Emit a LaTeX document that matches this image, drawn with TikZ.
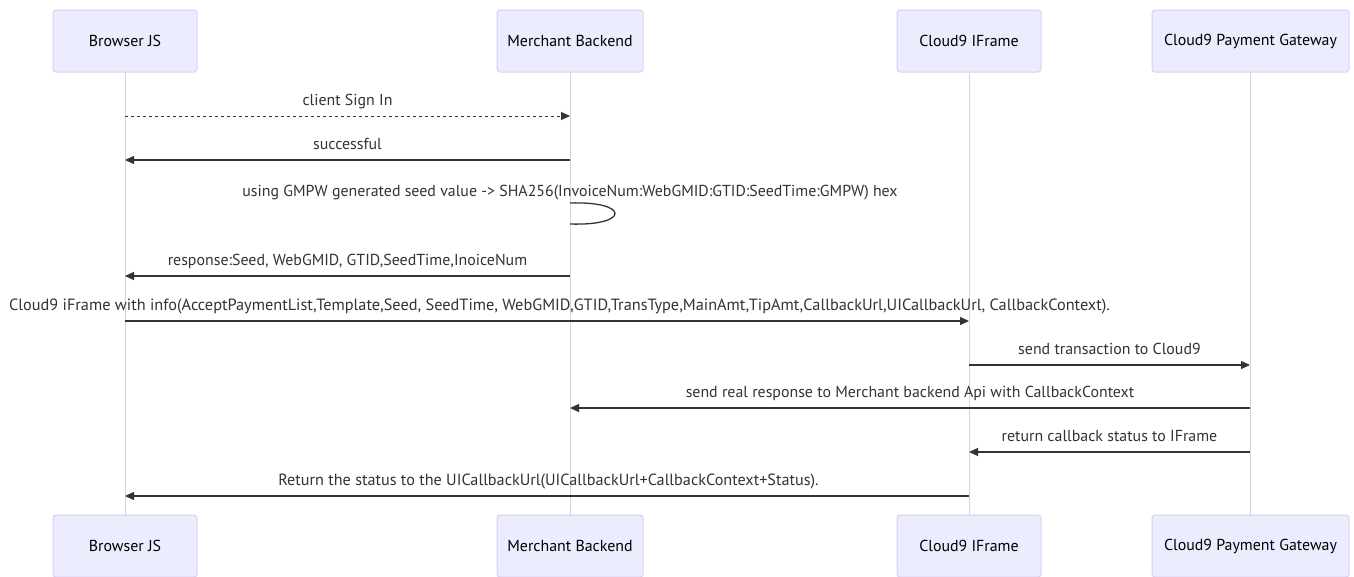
\documentclass[tikz,border=0pt]{standalone}
\usepackage{fontspec}
\setmainfont{PT Sans}
\usetikzlibrary{arrows.meta}
\definecolor{actfill}{HTML}{ECECFF}
\definecolor{actborder}{HTML}{DACEF3}
\definecolor{sig}{HTML}{333333}
\begin{document}
\begin{tikzpicture}[x=1pt,y=-1pt,
  actor/.style={draw=actborder,fill=actfill,line width=1pt,rounded corners=3pt,
    minimum height=62pt,inner sep=0pt,font=\fontsize{15.9}{19}\selectfont,text=black},
  life/.style={draw=actborder,line width=1pt},
  msg/.style={draw=sig,line width=1.3pt,-{Triangle[length=9pt,width=8pt]}},
  dmsg/.style={msg,line width=1pt,dash pattern=on 3pt off 3pt},
  lbl/.style={inner sep=0pt,font=\fontsize{15.9}{19}\selectfont,text=sig,anchor=base}]
\useasboundingbox (0,0) rectangle (1354,576);
\fill[white] (0,0) rectangle (1354,576);
% actors top
\node[actor,minimum width=144pt] (bjT) at (125,41) {Browser JS};
\node[actor,minimum width=146pt] (mbT) at (570,41) {Merchant Backend};
\node[actor,minimum width=144pt] (ifT) at (969,41) {Cloud9 IFrame};
\node[actor,minimum width=197pt] (pgT) at (1250.5,41) {Cloud9 Payment Gateway};
% actors bottom
\node[actor,minimum width=144pt] (bjB) at (125,546) {Browser JS};
\node[actor,minimum width=146pt] (mbB) at (570,546) {Merchant Backend};
\node[actor,minimum width=144pt] (ifB) at (969,546) {Cloud9 IFrame};
\node[actor,minimum width=197pt] (pgB) at (1250.5,546) {Cloud9 Payment Gateway};
% lifelines
\draw[life] (bjT.south) -- (bjB.north);
\draw[life] (mbT.south) -- (mbB.north);
\draw[life] (ifT.south) -- (ifB.north);
\draw[life] (pgT.south) -- (pgB.north);
% message anchor points
\coordinate (a1) at (125,116); \coordinate (b1) at (570,116);
\coordinate (a2) at (570,160); \coordinate (b2) at (125,160);
\coordinate (a3) at (570,203); \coordinate (b3) at (570,224);
\coordinate (a4) at (570,276); \coordinate (b4) at (125,276);
\coordinate (a5) at (125,321); \coordinate (b5) at (969,321);
\coordinate (a6) at (969,365); \coordinate (b6) at (1250,365);
\coordinate (a7) at (1250,408); \coordinate (b7) at (570,408);
\coordinate (a8) at (1250,452); \coordinate (b8) at (969,452);
\coordinate (a9) at (969,496); \coordinate (b9) at (125,496);
% messages
\draw[dmsg] (a1) -- (b1);
\node[lbl] (t1) at (347.5,105) {client Sign In};
\draw[msg] (a2) -- (b2);
\node[lbl] (t2) at (347.5,149) {successful};
\draw[draw=sig,line width=1.3pt] (a3) .. controls (630,201) and (630,226) .. (b3);
\node[lbl] (t3) at (570,196) {using GMPW generated seed value -> SHA256(InvoiceNum:WebGMID:GTID:SeedTime:GMPW) hex};
\draw[msg] (a4) -- (b4);
\node[lbl] (t4) at (347.5,265) {response:Seed, WebGMID, GTID,SeedTime,InoiceNum};
\draw[msg] (a5) -- (b5);
\node[lbl,font=\fontsize{16.3}{19}\selectfont] (t5) at (559.5,310) {Cloud9 iFrame with info(AcceptPaymentList,Template,Seed, SeedTime, WebGMID,GTID,TransType,MainAmt,TipAmt,CallbackUrl,UICallbackUrl, CallbackContext).};
\draw[msg] (a6) -- (b6);
\node[lbl] (t6) at (1109.5,354) {send transaction to Cloud9};
\draw[msg] (a7) -- (b7);
\node[lbl] (t7) at (910,397) {send real response to Merchant backend Api with CallbackContext};
\draw[msg] (a8) -- (b8);
\node[lbl] (t8) at (1109.5,441) {return callback status to IFrame};
\draw[msg] (a9) -- (b9);
\node[lbl,font=\fontsize{16.2}{19}\selectfont] (t9) at (548.5,485) {Return the status to the UICallbackUrl(UICallbackUrl+CallbackContext+Status).};
\end{tikzpicture}
\end{document}
